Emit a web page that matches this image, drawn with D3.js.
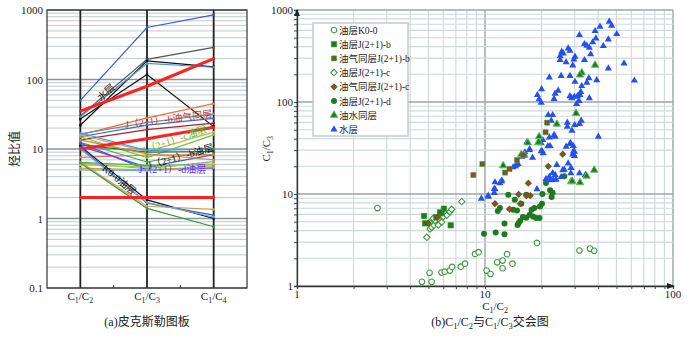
<!DOCTYPE html>
<html><head><meta charset="utf-8">
<script src="https://cdn.jsdelivr.net/npm/d3@7"></script>
<style>
body{margin:0;background:#fff;}
svg{display:block;font-family:"Liberation Serif","DejaVu Serif","Noto Sans CJK SC",serif;}
</style></head><body>
<svg id="c" width="700" height="337"></svg>
<script>
// ---------- DATA: left panel (Pixler plot) ----------
const pixlerCategories = ["C1/C2", "C1/C3", "C1/C4"];
const pixlerC1C2 = [50, 30, 22, 29, 27, 35,  16, 16.5, 15, 13.5, 10, 16, 15, 17, 12.5, 11.5, 11, 7.6, 6.3, 12.2, 6.4, 5.3, 5.0, 5.9, 13.5,  11, 10.5, 6.5, 6.3, 10, 2];
const pixlerC1C3 = [560, 195, 185, 170, 118, 80, 28, 24, 22, 19, 14, 9.2, 7.5, 9.5, 6.5, 9, 5.5, 8.2, 5.2, 5.0, 5.8, 5.0, 4.9, 5.5, 8.5,  1.85, 1.66, 1.5, 1.4, 1.7, 2];
const pixlerC1C4 = [850, 290, 152, 150, 21, 200, 45, 32, 27.5, 23.5, 20.5, 17.5, 16, 10, 9.7, 9.2, 8.3, 8.3, 6.6, 5.3, 5.9, 5.6, 5.4, 6.1, 7.0,  1.0, 1.12, 1.35, 0.76, 1.05, 2];
const pixlerColors = ["#3b5bdb", "#555555", "#111111", "#4a90d9", "#111111", "#ff2020",
  "#e8743b", "#888888", "#2b6fd6", "#b22222", "#ff2020", "#e8a060", "#66cc33", "#3399ff", "#3aa83a", "#1f7a1f", "#3b5bdb", "#f07050", "#999999", "#7b2ff7", "#44bb44", "#d4a017", "#66aaff", "#a8d040", "#cc8844",
  "#111111", "#3b5bdb", "#c8a040", "#3a9a3a", "#66aadd", "#ff2020"];
const pixlerThick = [0,0,0,0,0,1, 0,0,0,0,1,0,0,0,0,0,0,0,0,0,0,0,0,0,0, 0,0,0,0,0,1];
const leftTicks = [0.1, 1, 10, 100, 1000];

// ---------- DATA: right panel (C1/C2 vs C1/C3) ----------
const xTicksR = [1, 10, 100];
const yTicksR = [1, 10, 100, 1000];
const legendNames = ["油层K0-0", "油层J(2+1)-b", "油气同层J(2+1)-b", "油层J(2+1)-c", "油气同层J(2+1)-c", "油层J(2+1)-d", "油水同层", "水层"];

const oilK0 = [[2.68,7.03],[4.62,1.11],[5.2,1.11],[5.07,1.39],[5.87,1.40],[6.11,1.43],[6.5,1.47],[6.68,1.61],[7.43,1.62],[7.83,1.75],[8.85,2.23],[9.25,2.33],[10.2,1.47],[10.7,1.35],[11.6,1.81],[12.4,1.89],[12.4,1.56],[13.1,2.22],[14.0,1.75],[18.9,2.94],[31.8,2.43],[36.2,2.55],[38.1,2.41]];
const oilJb = [[4.74,5.77],[4.8,4.8],[6.05,6.92],[5.88,6.17],[6.57,4.57],[5.76,6.32],[5.5,5.6]];
const oilGasJb = [[8.67,16.1],[9.68,21.2],[12.8,17.1],[13.5,18.7],[21.0,46.9],[21.4,59.6],[14.8,23.4],[16.0,26.5]];
const oilJc = [[4.9,3.38],[5.1,4.17],[5.2,4.35],[5.35,4.57],[5.42,5.13],[5.65,4.6],[5.69,5.31],[5.88,4.96],[6.0,5.67],[6.13,6.17],[6.26,5.87],[6.51,6.42],[6.65,6.81],[7.52,8.26],[5.08,4.88],[5.31,5.44]];
const oilGasJc = [[4.99,4.83],[5.59,5.57],[11.3,7.85],[13.5,6.86],[15.1,9.91],[15.4,7.85],[17.0,13.1],[16.6,9.59],[17.4,9.59],[21.7,20.0],[25.9,27.1]];
const oilJd = [[9.88,3.69],[11.4,3.82],[12.7,3.66],[12.7,4.79],[13.3,9.84],[11.7,6.53],[12.0,7.03],[14.1,6.75],[14.8,6.63],[15.1,4.83],[14.9,4.59],[15.4,5.12],[15.9,5.61],[16.6,5.52],[17.3,5.95],[18.0,5.71],[18.7,5.47],[17.7,6.75],[18.3,7.03],[19.6,7.33],[20.1,7.85],[19.5,5.47],[20.2,10.0],[21.1,13.2],[22.2,11.0],[22.9,10.3],[22.6,9.27],[26.4,15.6],[15.6,7.85],[14.4,8.67],[16.6,9.84]];
const oilWater = [[38.5,252],[32.7,208],[32.0,197],[24.1,57.6],[19.4,42.0],[19.2,36.1],[12.5,20.3],[30.5,75.4],[38.1,18.2],[28.7,13.6],[32.0,13.3],[34.7,15.7],[16.2,26.5],[29.1,13.8],[16.9,36.0],[19.3,36.6],[15.6,26.9]];
const waterLayer = [[45.8,746],[47.2,676],[40.9,658],[38.5,591],[50.2,548],[31.8,535],[45.3,480],[38.9,492],[37.4,446],[33.8,427],[34.8,409],[35.9,389],[42.6,406],[27.7,383],[28.3,361],[25.6,352],[26.1,338],[25.1,316],[30.1,311],[29.7,291],[36.5,330],[33.8,286],[25.1,286],[27.0,270],[29.3,250],[54.9,263],[45.3,232],[22.0,185],[25.4,192],[28.3,192],[35.7,182],[39.3,173],[34.8,162],[30.1,166],[32.7,149],[20.0,138],[24.5,133],[23.6,123],[19.0,119],[19.4,107],[19.9,98.4],[23.3,108],[28.3,116],[28.9,110],[29.9,114],[31.0,116],[32.0,119],[32.3,129],[31.6,103],[30.7,95],[35.9,110],[62.3,171],[32.5,62.6],[31.8,57.7],[30.0,56.2],[27.4,59.6],[27.4,53.9],[29.0,48.8],[22.9,72.2],[21.7,72.2],[22.5,62.6],[23.3,43.8],[22.0,41.3],[20.3,38.6],[19.9,35.6],[23.6,42.0],[22.2,33.2],[28.3,34.9],[29.5,33.2],[27.0,32.7],[29.9,28.8],[29.9,25.9],[40.1,42.0],[29.5,27.2],[27.7,21.5],[24.1,20.7],[22.0,15.4],[23.1,14.2],[23.6,16.1],[25.9,18.2],[28.6,16.8],[31.8,16.8],[34.2,16.1],[16.7,36.5],[17.2,30.1],[16.3,28.4],[15.7,25.4],[17.9,24.8],[15.0,21.2],[14.7,20.7],[14.5,20.1],[14.1,19.5],[12.3,14.0],[12.0,13.1],[11.3,11.3],[11.2,10.3],[10.4,9.35],[20.4,27.7],[20.1,29.3],[9.56,8.9],[10.4,9.59],[11.2,11.4],[11.3,13.4],[12.2,13.7],[18.9,11.3],[21.1,14.6],[22.2,14.1],[22.9,16.9],[23.9,14.3],[25.4,15.3],[28.7,19.2],[26.4,18.4],[29.3,26.9],[29.6,29.2],[28.5,36.0],[17.3,30.5],[19.9,29.2],[21.6,33.1]];

// ---------- DRAW ----------
const svg = d3.select("#c");
const fontCJK = '"Liberation Serif","Noto Sans CJK SC",serif';

function subLabel(sel, main1, s1, main2, s2, size) {
  sel.append("tspan").text(main1);
  sel.append("tspan").attr("dy", 3).attr("font-size", size * 0.72).text(s1);
  sel.append("tspan").attr("dy", -3).text("/" + main2);
  sel.append("tspan").attr("dy", 3).attr("font-size", size * 0.72).text(s2);
}

// ===== Left panel =====
const L = {x0: 47, x1: 247, y0: 10, y1: 288};
const xL = d3.scalePoint().domain(pixlerCategories).range([L.x0, L.x1]).padding(0.5);
const yL = d3.scaleLog().domain([0.1, 1000]).range([L.y1, L.y0]);
const gL = svg.append("g");

const gridVals = [];
for (let e = -1; e < 3; e++) for (let k = 1; k <= 9; k++) gridVals.push(k * Math.pow(10, e));
gridVals.push(1000);
gL.selectAll("line.grid").data(gridVals).join("line")
  .attr("x1", L.x0).attr("x2", L.x1)
  .attr("y1", d => yL(d)).attr("y2", d => yL(d))
  .attr("stroke", d => leftTicks.includes(d) ? "#8a9598" : "#b9c4c8")
  .attr("stroke-width", d => leftTicks.includes(d) ? 1.3 : 0.9);

gL.selectAll("line.cat").data(pixlerCategories).join("line")
  .attr("x1", d => xL(d)).attr("x2", d => xL(d))
  .attr("y1", L.y0).attr("y2", L.y1)
  .attr("stroke", "#222").attr("stroke-width", 1.8);

gL.append("rect").attr("x", L.x0).attr("y", L.y0).attr("width", L.x1 - L.x0).attr("height", L.y1 - L.y0)
  .attr("fill", "none").attr("stroke", "#333").attr("stroke-width", 1.2);
const midTicks = [0.5, 1.5].map(f => xL(pixlerCategories[0]) + f * xL.step());
gL.selectAll("line.mt").data(midTicks).join("line")
  .attr("x1", d => d).attr("x2", d => d).attr("y1", L.y1).attr("y2", L.y1 - 3)
  .attr("stroke", "#333");

const lineData = pixlerC1C2.map((v, i) => ({
  vals: [pixlerC1C2[i], pixlerC1C3[i], pixlerC1C4[i]], color: pixlerColors[i], thick: pixlerThick[i]
}));
const lineGen = d3.line().x((d, j) => xL(pixlerCategories[j])).y(d => yL(d));
const ordered = lineData.filter(d => !d.thick).concat(lineData.filter(d => d.thick));
gL.selectAll("path.pl").data(ordered).join("path")
  .attr("d", d => lineGen(d.vals))
  .attr("fill", "none").attr("stroke", d => d.color)
  .attr("stroke-width", d => d.thick ? 3 : 1.2);
ordered.forEach(d => {
  d.vals.forEach((v, j) => {
    gL.append("rect").attr("x", xL(pixlerCategories[j]) - 1.2).attr("y", yL(v) - 1.2)
      .attr("width", 2.4).attr("height", 2.4).attr("fill", d.color);
  });
});

gL.selectAll("text.yt").data(leftTicks).join("text")
  .attr("x", 43).attr("y", d => yL(d) + 4)
  .attr("text-anchor", "end").attr("font-size", 11).attr("fill", "#222")
  .text(d => d === 0.1 ? "0.1" : d);
pixlerCategories.forEach(c => {
  const parts = c.split("/");
  const t = gL.append("text").attr("x", xL(c)).attr("y", 300).attr("text-anchor", "middle")
    .attr("font-size", 11).attr("fill", "#222");
  subLabel(t, "C", parts[0].slice(1), "C", parts[1].slice(1), 11);
});
gL.append("text").attr("transform", `translate(19,${yL(10)}) rotate(-90)`)
  .attr("text-anchor", "middle").attr("font-size", 12).attr("font-family", fontCJK).attr("fill", "#222")
  .text("烃比值");
gL.append("text").attr("x", xL(pixlerCategories[1])).attr("y", 326).attr("text-anchor", "middle")
  .attr("font-size", 12).attr("font-family", fontCJK).attr("fill", "#222").text("(a)皮克斯勒图板");

function lerpX(f) { return xL(pixlerCategories[0]) + f * xL.step(); }
const lbls = [
  {t: "水层", f: 0.42, v: 60, a: -42, c: "#222"},
  {t: "J（2+1）-b油气同层", f: 1.33, v: 24, a: -7, c: "#c0303a"},
  {t: "J（2+1）-c油层", f: 1.43, v: 12.2, a: -19, c: "#44cc22"},
  {t: "J（2+1）-b油层", f: 1.52, v: 7.0, a: -16, c: "#111"},
  {t: "J（2+1）-d油层", f: 1.38, v: 4.5, a: 0, c: "#6a2ff0"},
  {t: "K0-0油层", f: 0.55, v: 3.3, a: 40, c: "#111"}
];
lbls.forEach(l => {
  gL.append("text").attr("transform", `translate(${lerpX(l.f)},${yL(l.v)}) rotate(${l.a})`)
    .attr("text-anchor", "middle").attr("font-size", 10).attr("font-family", fontCJK)
    .attr("fill", l.c).text(l.t);
});

// ===== Right panel =====
const R = {x0: 297, x1: 673, y0: 10, y1: 286};
const xR = d3.scaleLog().domain([1, 100]).range([R.x0, R.x1]);
const yR = d3.scaleLog().domain([1, 1000]).range([R.y1, R.y0]);
const gR = svg.append("g");

const gx = [], gy = [];
for (let e = 0; e < 2; e++) for (let k = 1; k <= 9; k++) gx.push(k * Math.pow(10, e));
gx.push(100);
for (let e = 0; e < 3; e++) for (let k = 1; k <= 9; k++) gy.push(k * Math.pow(10, e));
gy.push(1000);
gR.selectAll("line.gx").data(gx).join("line")
  .attr("x1", d => xR(d)).attr("x2", d => xR(d)).attr("y1", R.y0).attr("y2", R.y1)
  .attr("stroke", d => xTicksR.includes(d) ? "#9aa4a6" : "#cfd8da")
  .attr("stroke-width", d => xTicksR.includes(d) ? 1.4 : 1.1);
gR.selectAll("line.gy").data(gy).join("line")
  .attr("x1", R.x0).attr("x2", R.x1).attr("y1", d => yR(d)).attr("y2", d => yR(d))
  .attr("stroke", d => yTicksR.includes(d) ? "#9aa4a6" : "#cfd8da")
  .attr("stroke-width", d => yTicksR.includes(d) ? 1.4 : 1.1);

const axL = gR.append("g").attr("transform", `translate(${R.x0},0)`)
  .call(d3.axisLeft(yR).tickValues(gy).tickSize(3).tickFormat(""));
const axB = gR.append("g").attr("transform", `translate(0,${R.y1})`)
  .call(d3.axisBottom(xR).tickValues(gx).tickSize(3).tickFormat(""));
[axL, axB].forEach(a => { a.select(".domain").attr("stroke", "#333").attr("stroke-width", 1.3); a.selectAll(".tick line").attr("stroke", "#444"); });
gR.append("path").attr("d", `M${R.x0 - 3},${R.y0 + 6} L${R.x0},${R.y0 - 1} L${R.x0 + 3},${R.y0 + 6} Z`).attr("fill", "#222");
gR.append("path").attr("d", `M${R.x1 - 6},${R.y1 - 3} L${R.x1 + 2},${R.y1} L${R.x1 - 6},${R.y1 + 3} Z`).attr("fill", "#222");

gR.selectAll("text.xt").data(xTicksR).join("text")
  .attr("x", d => xR(d)).attr("y", 298).attr("text-anchor", "middle")
  .attr("font-size", 11).attr("fill", "#222").text(d => d);
gR.selectAll("text.yt").data(yTicksR).join("text")
  .attr("x", 293).attr("y", d => yR(d) + 4).attr("text-anchor", "end")
  .attr("font-size", 11).attr("fill", "#222").text(d => d);

const xt = gR.append("text").attr("x", xR(10) + 10).attr("y", 310).attr("text-anchor", "middle")
  .attr("font-size", 11).attr("fill", "#222");
subLabel(xt, "C", "1", "C", "2", 11);
const yt = gR.append("text").attr("transform", `translate(270,${yR(31)}) rotate(-90)`).attr("text-anchor", "middle")
  .attr("font-size", 11).attr("fill", "#222");
subLabel(yt, "C", "1", "C", "3", 11);
const cap = gR.append("text").attr("x", xR(10) + 5).attr("y", 326).attr("text-anchor", "middle")
  .attr("font-size", 12).attr("font-family", fontCJK).attr("fill", "#222");
cap.append("tspan").text("(b)C");
cap.append("tspan").attr("dy", 3).attr("font-size", 8.5).text("1");
cap.append("tspan").attr("dy", -3).text("/C");
cap.append("tspan").attr("dy", 3).attr("font-size", 8.5).text("2");
cap.append("tspan").attr("dy", -3).text("与C");
cap.append("tspan").attr("dy", 3).attr("font-size", 8.5).text("1");
cap.append("tspan").attr("dy", -3).text("/C");
cap.append("tspan").attr("dy", 3).attr("font-size", 8.5).text("3");
cap.append("tspan").attr("dy", -3).text("交会图");

const GREEN = "#1f7a1f", LGREEN = "#3a9a3a", RED = "#ff1a1a", BLUE = "#2450f0";
const sq = d3.symbol().type(d3.symbolSquare);
const tri = d3.symbol().type(d3.symbolTriangle);
const diamond = r => `M0,${-r}L${r},0L0,${r}L${-r},0Z`;
const styles = [
  {data: oilK0, draw: (g) => g.append("circle").attr("r", 2.8).attr("fill", "#fff").attr("stroke", LGREEN).attr("stroke-width", 1.1)},
  {data: oilJb, draw: (g) => g.append("path").attr("d", sq.size(30)()).attr("fill", GREEN).attr("stroke", "#3d9a3d").attr("stroke-width", 0.6)},
  {data: oilGasJb, draw: (g) => { g.append("path").attr("d", sq.size(26)()).attr("fill", GREEN).attr("stroke", "#4aa84a").attr("stroke-width", 0.6); g.append("path").attr("d", sq.size(8)()).attr("fill", RED); }},
  {data: oilJc, draw: (g) => g.append("path").attr("d", diamond(3.2)).attr("fill", "#fff").attr("stroke", LGREEN).attr("stroke-width", 1.1)},
  {data: oilGasJc, draw: (g) => { g.append("path").attr("d", diamond(3.6)).attr("fill", GREEN); g.append("circle").attr("r", 1.7).attr("fill", RED); }},
  {data: oilJd, draw: (g) => g.append("circle").attr("r", 3).attr("fill", GREEN)},
  {data: oilWater, draw: (g) => g.append("path").attr("d", tri.size(24)()).attr("fill", "#1f7a1f").attr("stroke", "#5fc05f").attr("stroke-width", 1)},
  {data: waterLayer, draw: (g) => g.append("path").attr("d", tri.size(22)()).attr("fill", BLUE)}
];
const drawOrder = [0, 3, 1, 5, 7, 6, 2, 4];
drawOrder.forEach(i => {
  const s = styles[i];
  s.data.forEach(p => {
    const g = gR.append("g").attr("transform", `translate(${xR(p[0])},${yR(p[1])})`);
    s.draw(g);
  });
});

const lg = gR.append("g").attr("transform", "translate(313,23)");
lg.append("rect").attr("width", 95).attr("height", 113).attr("fill", "#fff")
  .attr("stroke", "#c4cccc").attr("stroke-width", 1.5);
legendNames.forEach((n, i) => {
  const row = lg.append("g").attr("transform", `translate(21,${7 + i * 14.2})`);
  styles[i].draw(row.append("g"));
  row.append("text").attr("x", 5).attr("y", 3.5).attr("font-size", 9.5).attr("font-family", fontCJK)
    .attr("fill", "#222").text(n);
});
</script>
</body></html>
